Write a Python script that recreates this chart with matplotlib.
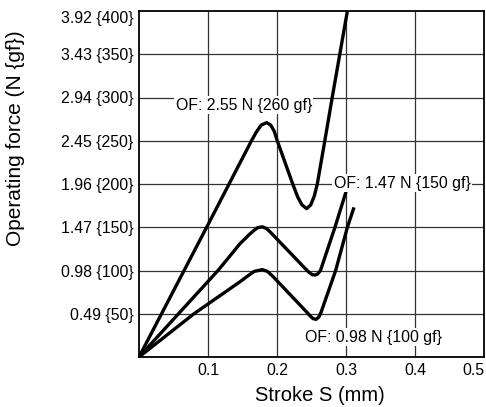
import matplotlib
matplotlib.use("Agg")
import matplotlib.pyplot as plt

plt.rcParams['font.family'] = ['Liberation Sans', 'DejaVu Sans']

# Stroke (mm) and operating force (gf)
s_260 = [0.0, 0.100, 0.163, 0.170, 0.177, 0.185, 0.191, 0.196, 0.2004, 0.2228, 0.230, 0.236, 0.243,
         0.249, 0.254, 0.2584, 0.2693, 0.280, 0.291, 0.302, 0.306]
f_260 = [0, 153, 250, 260, 268, 271, 268, 261, 250, 200, 185, 176, 171.5,
         176, 186, 200, 250, 300, 350, 400, 420]

s_150 = [0.0, 0.1145, 0.1464, 0.159, 0.166, 0.172, 0.1787, 0.185, 0.192, 0.243, 0.247, 0.251, 0.255,
         0.259, 0.263, 0.284, 0.300]
f_150 = [0, 100, 131, 141, 146, 149.5, 150.5, 148.5, 143, 100.5, 97.5, 95.3, 94.7,
         96, 100, 150, 191]

s_100 = [0.0, 0.0797, 0.1464, 0.159, 0.167, 0.1787, 0.186, 0.193, 0.243, 0.248, 0.252, 0.2565,
         0.2605, 0.264, 0.285, 0.302, 0.3116]
f_100 = [0, 50, 87, 94.5, 99, 101, 99, 94, 52, 47.5, 44.5, 43.5,
         46, 52, 100, 150, 173]

y_ticks_gf = [50, 100, 150, 200, 250, 300, 350, 400]
y_tick_labels = ["0.49 {50}", "0.98 {100}", "1.47 {150}", "1.96 {200}",
                 "2.45 {250}", "2.94 {300}", "3.43 {350}", "3.92 {400}"]
x_ticks = [0.1, 0.2, 0.3, 0.4, 0.5]
x_tick_labels = ["0.1", "0.2", "0.3", "0.4", "0.5"]

labels = ["OF: 2.55 N {260 gf}", "OF: 1.47 N {150 gf}", "OF: 0.98 N {100 gf}"]
label_pos = [(0.053, 291), (0.282, 201), (0.2405, 23)]

fig = plt.figure(figsize=(4.86, 4.07), dpi=100)
ax = fig.add_axes([139/486, 50/407, 345/486, 346/407])

ax.set_xlim(0, 0.5)
ax.set_ylim(0, 400)

for v in y_ticks_gf[:-1]:
    ax.axhline(v, color='#333333', lw=0.9, zorder=1)
for v in x_ticks[:-1]:
    ax.axvline(v, color='#333333', lw=0.9, zorder=1)

for s, f in [(s_260, f_260), (s_150, f_150), (s_100, f_100)]:
    ax.plot(s, f, color='black', lw=2.4, solid_capstyle='butt', solid_joinstyle='round', zorder=3)

for txt, (x, y) in zip(labels, label_pos):
    ax.text(x, y, txt, fontsize=11.4, ha='left', va='center', zorder=4,
            bbox=dict(facecolor='white', edgecolor='none', pad=1.0))

ax.set_yticks(y_ticks_gf)
ax.set_yticklabels(y_tick_labels, fontsize=11.4)
ax.set_xticks(x_ticks)
ax.set_xticklabels(x_tick_labels, fontsize=11.4)
ax.tick_params(axis='both', length=0, pad=4)
ax.get_yticklabels()[-1].set_verticalalignment('top')
ax.get_xticklabels()[-1].set_horizontalalignment('right')

for sp in ax.spines.values():
    sp.set_linewidth(1.3)
    sp.set_color('black')

ax.set_xlabel("Stroke S (mm)", fontsize=14.5)
ax.set_ylabel("Operating force (N {gf})", fontsize=15)
ax.xaxis.set_label_coords(0.525, -0.084)
ax.yaxis.set_label_coords(-0.330, 0.633)

fig.savefig("out.png", dpi=100)
